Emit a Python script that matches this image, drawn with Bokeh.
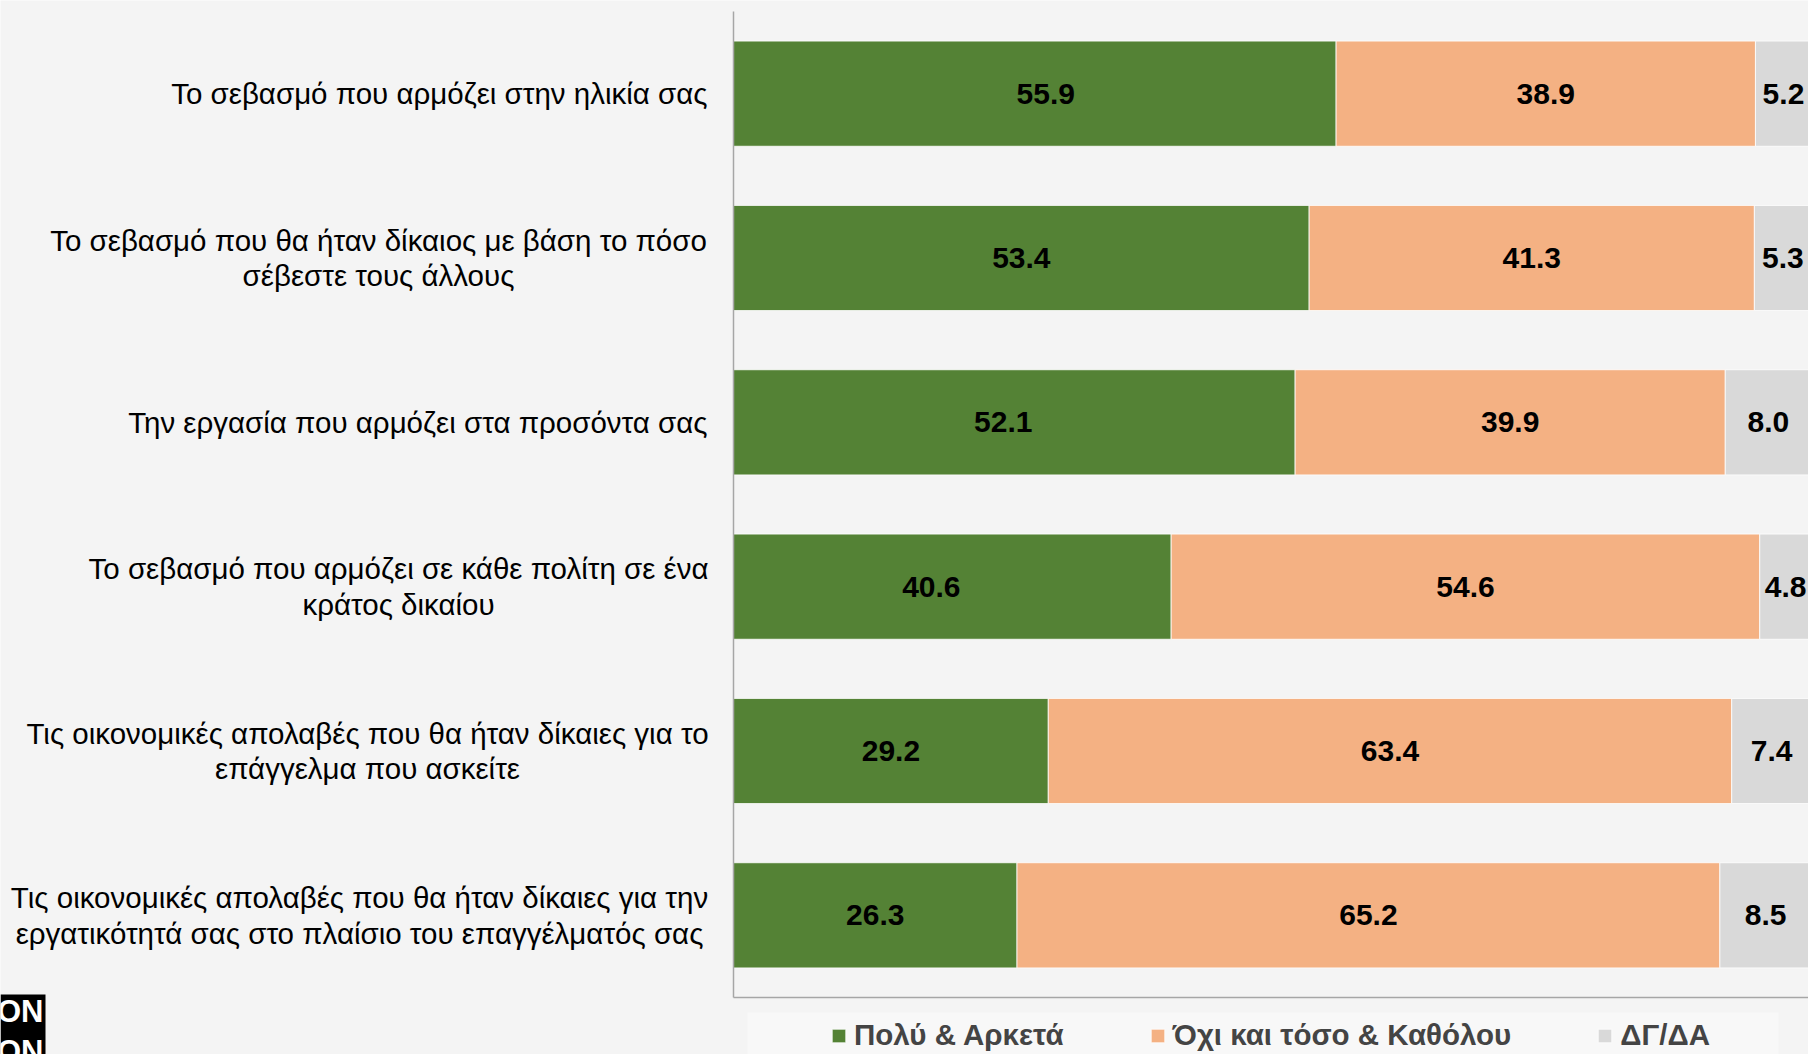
from bokeh.plotting import figure
from bokeh.models import ColumnDataSource, Range1d, Label, BoxAnnotation
from bokeh.core.properties import value
from bokeh.embed import file_html
from bokeh.resources import INLINE

categories = [
    "Το σεβασμό που αρμόζει στην ηλικία σας",
    "Το σεβασμό που θα ήταν δίκαιος με βάση το πόσο\nσέβεστε τους άλλους",
    "Την εργασία που αρμόζει στα προσόντα σας",
    "Το σεβασμό που αρμόζει σε κάθε πολίτη σε ένα\nκράτος δικαίου",
    "Τις οικονομικές απολαβές που θα ήταν δίκαιες για το\nεπάγγελμα που ασκείτε",
    "Τις οικονομικές απολαβές που θα ήταν δίκαιες για την\nεργατικότητά σας στο πλαίσιο του επαγγέλματός σας",
]
poly_arketa = [55.9, 53.4, 52.1, 40.6, 29.2, 26.3]
oxi_katholou = [38.9, 41.3, 39.9, 54.6, 63.4, 65.2]
dg_da = [5.2, 5.3, 8.0, 4.8, 7.4, 8.5]
series_names = ["Πολύ & Αρκετά", "Όχι και τόσο & Καθόλου", "ΔΓ/ΔΑ"]

# ---- styling / layout ----
W, H = 1808, 1054
BG = "#F4F4F4"
AXIS = "#A6A6A6"
COLORS = ["#548235", "#F4B183", "#D9D9D9"]
FONT_NAME = "Liberation Sans"
PLOT_LEFT = 733          # pixel where the bars start
PX_PER_PCT = 10.78       # pixels per percentage point
AXIS_TOP, AXIS_BOTTOM = 11, 997
label_offsets = [-26, -355, -26, -335, -366, -374]
label_aligns = ["right" if "\n" not in c else "center" for c in categories]
# manual horizontal nudges (px) of the first-series value labels, as placed in the original
first_label_nudge = [11, 0, -11, -21, 0, 0]

n = len(categories)
band = (AXIS_BOTTOM - AXIS_TOP) / n
x_start = -PLOT_LEFT / PX_PER_PCT
x_end = (W - PLOT_LEFT) / PX_PER_PCT
y_top = -0.5 - AXIS_TOP / band
y_bottom = (n - 0.5) + (H - AXIS_BOTTOM) / band

p = figure(width=W, height=H,
           x_range=Range1d(x_start, x_end), y_range=Range1d(y_bottom, y_top),
           output_backend="svg", toolbar_location=None,
           min_border=0, min_border_left=0, min_border_right=0,
           min_border_top=0, min_border_bottom=0,
           background_fill_color=BG, border_fill_color=BG, outline_line_color=None)
p.xaxis.visible = False
p.yaxis.visible = False
p.xgrid.grid_line_color = None
p.ygrid.grid_line_color = None

# legend background box (drawn first)
p.add_layout(BoxAnnotation(left=747, right=1778, top=1012, bottom=H,
                           left_units="canvas", right_units="canvas",
                           top_units="canvas", bottom_units="canvas",
                           fill_color="#F8F8F8", fill_alpha=1, line_color=None, level="underlay"))

src = ColumnDataSource(dict(y=list(range(n)), poly=poly_arketa, oxi=oxi_katholou, dk=dg_da))
p.hbar_stack(["poly", "oxi", "dk"], y="y", height=0.64, fill_color=COLORS,
             line_color="white", line_width=1, line_alpha=0.8, source=src,
             legend_label=series_names)

# axis lines (category axis at 0, value axis at bottom of the category band)
p.segment(x0=[0, 0], y0=[-0.5, n - 0.5], x1=[0, x_end], y1=[n - 0.5, n - 0.5],
          line_color=AXIS, line_width=1.5)

# value labels centred inside each segment
xs, ys, texts, nudges = [], [], [], []
for i in range(n):
    start = 0.0
    for k, vals in enumerate((poly_arketa, oxi_katholou, dg_da)):
        v = vals[i]
        xs.append(start + v / 2)
        ys.append(i)
        texts.append(f"{v:.1f}")
        nudges.append(first_label_nudge[i] if k == 0 else 0)
        start += v
val_src = ColumnDataSource(dict(x=xs, y=ys, text=texts, dx=nudges))
p.text(x="x", y="y", text="text", x_offset="dx", source=val_src,
       text_align="center", text_baseline="middle",
       text_font=value(FONT_NAME), text_font_style="bold", text_font_size="30px", text_color="black")

# category labels
lab_src = ColumnDataSource(dict(x=[0] * n, y=list(range(n)), text=categories,
                                off=label_offsets, align=label_aligns))
p.text(x="x", y="y", text="text", x_offset="off", text_align="align", source=lab_src,
       text_baseline="middle", text_font=value(FONT_NAME), text_font_size="29.5px",
       text_color="black", text_line_height=1.08)

# legend
lg = p.legend[0]
lg.orientation = "horizontal"
lg.location = (830, 2)
lg.background_fill_alpha = 0
lg.border_line_color = None
lg.padding = 0
lg.margin = 0
lg.spacing = 85
lg.label_standoff = 7
lg.glyph_width = 17
lg.glyph_height = 17
lg.label_text_font = FONT_NAME
lg.label_text_font_style = "bold"
lg.label_text_font_size = "29.5px"

# logo fragment bottom-left
p.add_layout(BoxAnnotation(left=0, right=45, top=994, bottom=H,
                           left_units="canvas", right_units="canvas",
                           top_units="canvas", bottom_units="canvas",
                           fill_color="black", fill_alpha=1, line_color=None))
for ytxt in (1011, 1051):
    p.add_layout(Label(x=43, y=ytxt, x_units="canvas", y_units="canvas", text="ON",
                       text_align="right", text_baseline="alphabetic", text_font=FONT_NAME,
                       text_font_style="bold", text_font_size="31px", text_color="white"))

open("out.html", "w").write(file_html(p, INLINE))
